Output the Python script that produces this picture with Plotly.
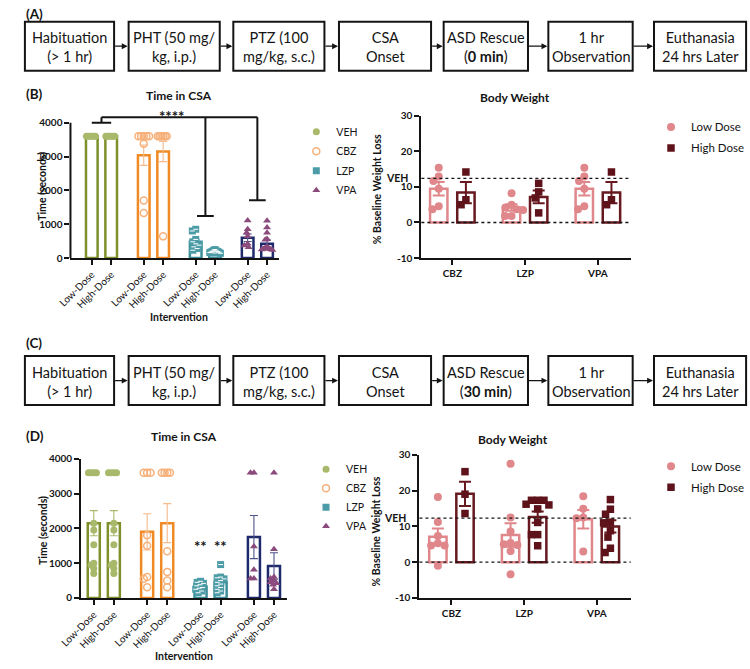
import math
import plotly.graph_objects as go

W, H = 750, 669
FONT = "Lato"
INK = "#141414"

# ======================= DATA =======================
GROUPS = ["VEH", "CBZ", "LZP", "VPA"]
DOSE_LABELS = ["Low-Dose", "High-Dose"]
BW_DRUGS = ["CBZ", "LZP", "VPA"]
BW_DOSES = ["Low Dose", "High Dose"]

# (B) Time in CSA (seconds), ASD rescue at 0 min: [low-dose points, high-dose points]
B_TIME_VEH = [[3600, 3600, 3600, 3600, 3600, 3600], [3600, 3600, 3600, 3600, 3600, 3600]]
B_TIME_CBZ = [[3600, 3600, 3600, 3600, 3600, 3380, 1700, 1330], [3600, 3600, 3600, 3600, 3600, 3600, 640]]
B_TIME_LZP = [[850, 800, 550, 480, 420, 380, 330, 280, 230], [250, 230, 210, 200, 190, 180, 170, 160, 150, 140]]
B_TIME_VPA = [[1110, 850, 750, 640, 420, 370, 320], [1100, 900, 750, 560, 540, 330, 300, 290, 270, 260, 250, 240]]
# bar heights (mean) and SEM, order: VEH low/high, CBZ low/high, LZP low/high, VPA low/high
B_TIME_MEAN = [3600, 3600, 3040, 3150, 480, 190, 600, 420]
B_TIME_SEM = [0, 0, 300, 300, 75, 12, 110, 110]
# significance bracket (****): top level and cap level per group (None = no cap)
B_SIG_TOP = 4160
B_SIG_CAP = [4000, None, 1240, 1710]
B_SIG_LABEL = "****"

# (B) Body weight (% baseline weight loss): points per drug [CBZ, LZP, VPA]
B_BW_LOW = [[15.4, 12.9, 11.7, 9.5, 4.6, 3.7], [8.2, 5.0, 4.2, 3.7, 3.5, 1.8, 1.8], [15.4, 12.9, 11.7, 9.5, 4.6, 3.7]]
B_BW_HIGH = [[14.2, 6.4, 5.0], [11.0, 8.6, 6.9, 2.7], [14.2, 6.4, 5.0]]
B_BW_MEAN = [[9.5, 4.2, 9.5], [8.4, 7.2, 8.4]]
B_BW_SEM = [[1.9, 0.9, 1.9], [3.0, 1.8, 3.0]]
B_BW_VEH = 12.4

# (D) Time in CSA (seconds), ASD rescue at 30 min
D_TIME_VEH = [[3600, 3600, 3600, 3600, 2150, 1950, 1530, 1000, 950, 850, 700],
              [3600, 3600, 3600, 3600, 2150, 1950, 1530, 1000, 950, 850, 700]]
D_TIME_CBZ = [[3600, 3600, 3600, 1800, 1500, 600, 550, 310], [3600, 3600, 3600, 3600, 1340, 750, 500, 310]]
D_TIME_LZP = [[480, 450, 420, 380, 350, 300, 280, 250, 200, 150],
              [960, 600, 580, 550, 500, 450, 400, 350, 300, 250, 200, 150]]
D_TIME_VPA = [[3600, 3600, 1480, 810, 560, 560], [3600, 1400, 600, 560, 500, 450, 420, 380, 250]]
D_TIME_MEAN = [2150, 2150, 1900, 2150, 330, 450, 1750, 920]
D_TIME_SEM = [360, 360, 520, 560, 40, 70, 620, 380]
D_TIME_SIG = ["", "", "", "", "**", "**", "", ""]
D_TIME_SIG_Y = 1480

# (D) Body weight
D_BW_LOW = [[18.2, 11.2, 7.3, 5.3, 4.7, 4.7, -1.0], [27.5, 12.5, 8.6, 5.4, 5.0, 4.8, 3.1, -3.4],
            [18.4, 14.9, 12.5, 12.3, 3.0]]
D_BW_HIGH = [[25.3, 19.0, 13.6], [17.3, 17.3, 17.3, 16.2, 16.0, 14.9, 11.1, 7.7, 7.7, 4.6],
             [17.5, 14.8, 13.4, 11.2, 11.0, 8.8, 7.0, 3.9, 2.7]]
D_BW_MEAN = [[7.1, 7.6, 12.0], [19.1, 12.6, 10.0]]
D_BW_SEM = [[2.3, 3.3, 2.6], [3.4, 1.6, 1.7]]
D_BW_VEH = 12.3
D_BW_SIG = [["", "", ""], ["*", "", ""]]
D_BW_SIG_Y = 31.1

TIME_TICKS = [0, 1000, 2000, 3000, 4000]
BW_TICKS = [-10, 0, 10, 20, 30]
BW_TICKTEXT = ["-10", "0", "10", "20", "30"]

FLOW_A = ["Habituation<br>(> 1 hr)", "PHT (50 mg/<br>kg, i.p.)", "PTZ (100<br>mg/kg, s.c.)", "CSA<br>Onset",
          "ASD Rescue<br>(<b>0 min</b>)", "1 hr<br>Observation", "Euthanasia<br>24 hrs Later"]
FLOW_C = ["Habituation<br>(> 1 hr)", "PHT (50 mg/<br>kg, i.p.)", "PTZ (100<br>mg/kg, s.c.)", "CSA<br>Onset",
          "ASD Rescue<br>(<b>30 min</b>)", "1 hr<br>Observation", "Euthanasia<br>24 hrs Later"]

# ======================= STYLE / LAYOUT =======================
BAR_COLOR = {"VEH": "#7d902c", "CBZ": "#f08a24", "LZP": "#3c8f9a", "VPA": "#1f2a6c"}
PT_COLOR = {"VEH": "#a9b96b", "CBZ": "#f6b07a", "LZP": "#4c9ca7", "VPA": "#8b4a7c"}
ERR_COLOR = {"VEH": "#a9b96b", "CBZ": "#f6b989", "LZP": "#4c9ca7", "VPA": "#4e5388"}
PT_SYMBOL = {"VEH": "circle", "CBZ": "circle-open", "LZP": "square", "VPA": "triangle-up"}
BW_BAR = ["#e0878b", "#66191f"]
BW_PT = ["#e0878b", "#5e1219"]
BW_SYMBOL = ["circle", "square"]

# pixel boxes of each plot area and their axis ranges
PANELS = {
    "bt": dict(xa="x", ya="y", xpx=(50, 265), ypx=(109.4, 256), xr=(-1.1, 9.65), yr=(0, 4250), step=2.68),
    "bb": dict(xa="x2", ya="y2", xpx=(412, 628), ypx=(111, 256), xr=(-0.64, 7.07), yr=(-10, 30), step=2.68),
    "dt": dict(xa="x3", ya="y3", xpx=(61, 273), ypx=(460.7, 602.7), xr=(-0.63, 9.61), yr=(0, 4000), step=2.66),
    "db": dict(xa="x4", ya="y4", xpx=(410, 628), ypx=(456.7, 602.7), xr=(-0.68, 7.11), yr=(-10, 30), step=2.68),
}
BOX_X = [(3, 95), (110, 204), (218, 312), (327, 422), (435, 522), (543, 630), (652, 747)]
ROW_A_Y = (15, 65)
ROW_C_Y = (356, 406)


def px_per_unit(p):
    ux = (p["xpx"][1] - p["xpx"][0]) / (p["xr"][1] - p["xr"][0])
    uy = (p["ypx"][1] - p["ypx"][0]) / (p["yr"][1] - p["yr"][0])
    return ux, uy


def swarm(values, ux, uy, dist, limit_px):
    """horizontal offsets (axis units) so markers do not overlap too much"""
    placed = []
    res = [0.0] * len(values)
    order = sorted(range(len(values)), key=lambda i: -values[i])
    for i in order:
        v = values[i]
        chosen = 0.0
        for k in range(0, 300):
            cands = [0.0] if k == 0 else [-0.5 * k, 0.5 * k]
            found = None
            for c in cands:
                if all(math.hypot(c - po, (v - pv) * uy) >= dist for po, pv in placed):
                    found = c
                    break
            if found is not None:
                chosen = found
                break
        placed.append((chosen, v))
        res[i] = chosen
    mx = max(abs(r) for r in res) if res else 0
    scale = limit_px / mx if mx > limit_px else 1.0
    return [r * scale / ux for r in res]


def font(size, bold=False):
    d = dict(family=FONT, size=size, color=INK)
    if bold:
        d["weight"] = "bold"
    return d


fig = go.Figure()
shapes = []
annotations = []


def ann_px(text, x, y, size, bold=False, xanchor="center", yanchor="middle", angle=0):
    annotations.append(dict(text=text, x=x / W, y=1 - y / H, xref="paper", yref="paper", showarrow=False,
                            xanchor=xanchor, yanchor=yanchor, textangle=angle, font=font(size, bold)))


def time_chart(key, pts, means, sems, legend_id):
    p = PANELS[key]
    ux, uy = px_per_unit(p)
    step = p["step"]
    for gi, g in enumerate(GROUPS):
        xb = [gi * step + d for d in range(2)]
        fig.add_trace(go.Bar(
            x=xb, y=means[2 * gi:2 * gi + 2], width=0.6, xaxis=p["xa"], yaxis=p["ya"],
            marker=dict(color="white", line=dict(color=BAR_COLOR[g], width=2.5)),
            error_y=dict(type="data", array=sems[2 * gi:2 * gi + 2], color=ERR_COLOR[g], thickness=1.1, width=4),
            showlegend=False, hoverinfo="skip"))
    for gi, g in enumerate(GROUPS):
        xs, ys = [], []
        for d in range(2):
            vals = pts[gi][d]
            offs = swarm(vals, ux, uy, 3.5, 5.5)
            xs += [gi * step + d + o for o in offs]
            ys += list(vals)
        is_open = PT_SYMBOL[g].endswith("open")
        fig.add_trace(go.Scatter(
            x=xs, y=ys, mode="markers", name=g, legend=legend_id, legendgroup=legend_id + g,
            marker=dict(symbol=PT_SYMBOL[g], size=7, color=PT_COLOR[g],
                        line=dict(width=1.5 if is_open else 0, color=PT_COLOR[g])),
            cliponaxis=False, xaxis=p["xa"], yaxis=p["ya"], hoverinfo="skip"))
        if g == "LZP":
            fig.add_trace(go.Scatter(
                x=xs, y=ys, mode="markers", showlegend=False,
                marker=dict(symbol="line-ew", size=3.5, color="white", line=dict(width=1, color="white")),
                cliponaxis=False, xaxis=p["xa"], yaxis=p["ya"], hoverinfo="skip"))


def bw_chart(key, low_pts, high_pts, means, sems, veh, legend_id):
    p = PANELS[key]
    ux, uy = px_per_unit(p)
    step = p["step"]
    all_pts = [low_pts, high_pts]
    for d in range(2):
        xb = [gi * step + d for gi in range(len(BW_DRUGS))]
        fig.add_trace(go.Bar(
            x=xb, y=means[d], width=0.64, xaxis=p["xa"], yaxis=p["ya"],
            marker=dict(color="white", line=dict(color=BW_BAR[d], width=2.5)),
            error_y=dict(type="data", array=sems[d], color=BW_BAR[d], thickness=2, width=6),
            showlegend=False, hoverinfo="skip"))
    for d in range(2):
        xs, ys = [], []
        for gi in range(len(BW_DRUGS)):
            vals = all_pts[d][gi]
            offs = swarm(vals, ux, uy, 7, 12)
            xs += [gi * step + d + o for o in offs]
            ys += list(vals)
        fig.add_trace(go.Scatter(
            x=xs, y=ys, mode="markers", name=BW_DOSES[d], legend=legend_id, legendgroup=legend_id + str(d),
            marker=dict(symbol=BW_SYMBOL[d], size=8 if d == 0 else 7.5, color=BW_PT[d]),
            cliponaxis=False, xaxis=p["xa"], yaxis=p["ya"], hoverinfo="skip"))
    for yv in (0, veh):
        shapes.append(dict(type="line", xref=p["xa"] + " domain", yref=p["ya"], x0=0, x1=1, y0=yv, y1=yv,
                           line=dict(color=INK, width=1.3, dash="dot")))
    annotations.append(dict(text="VEH", xref=p["xa"] + " domain", yref=p["ya"], x=0, y=veh, xanchor="right",
                            yanchor="middle", xshift=-11, showarrow=False, font=font(10.5, True)))


time_chart("bt", [B_TIME_VEH, B_TIME_CBZ, B_TIME_LZP, B_TIME_VPA], B_TIME_MEAN, B_TIME_SEM, "legend")
bw_chart("bb", B_BW_LOW, B_BW_HIGH, B_BW_MEAN, B_BW_SEM, B_BW_VEH, "legend2")
time_chart("dt", [D_TIME_VEH, D_TIME_CBZ, D_TIME_LZP, D_TIME_VPA], D_TIME_MEAN, D_TIME_SEM, "legend3")
bw_chart("db", D_BW_LOW, D_BW_HIGH, D_BW_MEAN, D_BW_SEM, D_BW_VEH, "legend4")

# ---- significance marks ----
pb = PANELS["bt"]
sb = pb["step"]
centers = [gi * sb + 0.5 for gi in range(len(GROUPS))]
line_k = dict(color=INK, width=2)
shapes.append(dict(type="line", xref="x", yref="y", x0=centers[0], x1=centers[3], y0=B_SIG_TOP, y1=B_SIG_TOP, line=line_k))
for gi, cap in enumerate(B_SIG_CAP):
    if cap is None:
        continue
    half = 0.5 if gi == 0 else 0.43
    shapes.append(dict(type="line", xref="x", yref="y", x0=centers[gi], x1=centers[gi], y0=cap, y1=B_SIG_TOP, line=line_k))
    shapes.append(dict(type="line", xref="x", yref="y", x0=centers[gi] - half, x1=centers[gi] + half, y0=cap, y1=cap, line=line_k))
annotations.append(dict(text=B_SIG_LABEL, xref="x", yref="y", x=4.15, y=B_SIG_TOP, yanchor="middle", yshift=1,
                        showarrow=False, font=font(15, True)))
# custom y axis line for panel B time (stops at 4000)
shapes.append(dict(type="line", xref="x domain", yref="y", x0=0, x1=0, y0=0, y1=TIME_TICKS[-1], line=line_k))

pd_ = PANELS["dt"]
for i, s in enumerate(D_TIME_SIG):
    if s:
        gi, d = divmod(i, 2)
        annotations.append(dict(text=s, xref="x3", yref="y3", x=gi * pd_["step"] + d, y=D_TIME_SIG_Y,
                                yanchor="middle", showarrow=False, font=font(15, True)))
pdb = PANELS["db"]
for d in range(2):
    for gi, s in enumerate(D_BW_SIG[d]):
        if s:
            annotations.append(dict(text=s, xref="x4", yref="y4", x=gi * pdb["step"] + d, y=D_BW_SIG_Y,
                                    yanchor="middle", showarrow=False, font=font(13, True)))

# ---- flow charts ----
for row_y, texts in ((ROW_A_Y, FLOW_A), (ROW_C_Y, FLOW_C)):
    yc = (row_y[0] + row_y[1]) / 2
    for i, (x0, x1) in enumerate(BOX_X):
        shapes.append(dict(type="rect", xref="paper", yref="paper", x0=x0 / W, x1=x1 / W,
                           y0=1 - row_y[1] / H, y1=1 - row_y[0] / H, line=dict(color=INK, width=2), fillcolor="white"))
        ann_px(texts[i], (x0 + x1) / 2, yc + 1, 14.5)
        if i + 1 < len(BOX_X):
            nx = BOX_X[i + 1][0]
            annotations.append(dict(text="", x=nx / W, y=1 - yc / H, xref="paper", yref="paper", showarrow=True,
                                    ax=-(nx - x1), ay=0, axref="pixel", ayref="pixel", arrowhead=2, arrowsize=0.9,
                                    arrowwidth=1.3, arrowcolor=INK, standoff=1))

# ---- panel letters, titles, axis titles ----
ann_px("(A)", 2, 7, 13.5, True, xanchor="left")
ann_px("(B)", 2, 89, 13.5, True, xanchor="left")
ann_px("(C)", 2, 343, 13.5, True, xanchor="left")
ann_px("(D)", 2, 438, 13.5, True, xanchor="left")
ann_px("Time in CSA", 162, 90, 12, True)
ann_px("Body Weight", 509, 92, 12, True)
ann_px("Time in CSA", 167, 438, 12, True)
ann_px("Body Weight", 507, 441, 12, True)
ann_px("Time (seconds)", 21, 183, 10.5, True, angle=-90)
ann_px("Time (seconds)", 21, 534, 10.5, True, angle=-90)
ann_px("% Baseline Weight Loss", 367, 186, 10.5, True, angle=-90)
ann_px("% Baseline Weight Loss", 365, 535, 10.5, True, angle=-90)
ann_px("Intervention", 162, 316, 10.5, True)
ann_px("Intervention", 167, 662, 10.5, True)

# ---- axes ----
layout_axes = {}
for idx, key in enumerate(["bt", "bb", "dt", "db"]):
    p = PANELS[key]
    is_time = key.endswith("t")
    sfx = "" if idx == 0 else str(idx + 1)
    if is_time:
        tv = [gi * p["step"] + d for gi in range(len(GROUPS)) for d in range(2)]
        tt = DOSE_LABELS * len(GROUPS)
        xfont, xangle = font(10), -45
        ytv, ytt = TIME_TICKS, [str(t) for t in TIME_TICKS]
    else:
        tv = [gi * p["step"] + 0.5 for gi in range(len(BW_DRUGS))]
        tt = BW_DRUGS
        xfont, xangle = font(10, True), 0
        ytv, ytt = BW_TICKS, BW_TICKTEXT
    layout_axes["xaxis" + sfx] = dict(
        domain=[p["xpx"][0] / W, p["xpx"][1] / W], range=list(p["xr"]), anchor=p["ya"],
        showline=True, linecolor=INK, linewidth=2, ticks="outside", ticklen=5, tickwidth=2, tickcolor=INK,
        tickmode="array", tickvals=tv, ticktext=tt, tickangle=xangle, tickfont=xfont,
        showgrid=False, zeroline=False, fixedrange=True)
    layout_axes["yaxis" + sfx] = dict(
        domain=[1 - p["ypx"][1] / H, 1 - p["ypx"][0] / H], range=list(p["yr"]), anchor=p["xa"],
        showline=(key != "bt"), linecolor=INK, linewidth=2, ticks="outside", ticklen=5, tickwidth=2,
        tickcolor=INK, tickmode="array", tickvals=ytv, ticktext=ytt, tickfont=font(10, True),
        showgrid=False, zeroline=False, fixedrange=True)


def legend_cfg(mx, my, size, gap):
    return dict(x=(mx - 20) / W, y=1 - (my - 14.5) / H, xanchor="left", yanchor="top", font=font(size),
                bgcolor="rgba(0,0,0,0)", borderwidth=0, traceorder="grouped", tracegroupgap=gap)


fig.update_layout(
    width=W, height=H, autosize=False, margin=dict(l=0, r=0, t=0, b=0),
    paper_bgcolor="white", plot_bgcolor="white", barmode="overlay", showlegend=True,
    legend=legend_cfg(303, 127, 10.5, 0.5),
    legend2=legend_cfg(669, 122, 11.5, 2),
    legend3=legend_cfg(313, 471, 10.5, 0),
    legend4=legend_cfg(669, 468, 11.5, 2),
    shapes=shapes, annotations=annotations, **layout_axes)

fig.write_html("out.html", config={"displayModeBar": False, "staticPlot": True},
               post_script="document.body.style.margin='0';document.body.style.overflow='hidden';")
